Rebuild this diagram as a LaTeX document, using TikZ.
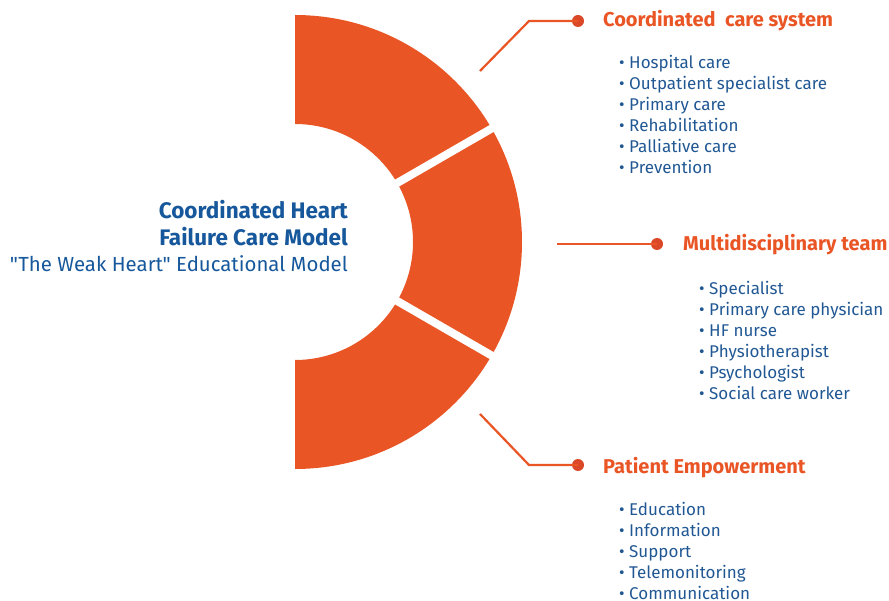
\documentclass[tikz,border=0pt]{standalone}
\usepackage{fontspec}
\setmainfont{Fira Sans}[Ligatures=TeXOff]
\definecolor{ringorange}{RGB}{233,85,37}
\definecolor{dotred}{RGB}{218,72,40}
\definecolor{titleblue}{RGB}{22,88,155}
\definecolor{itemblue}{RGB}{33,88,148}
\tikzset{
  header/.style={anchor=base west, inner sep=0pt, text=ringorange, font=\fontsize{20}{22}\selectfont\bfseries},
  item/.style={anchor=base west, inner sep=0pt, text=itemblue, font=\fontsize{17}{19}\selectfont},
  connector/.style={draw=ringorange, line width=2.2pt},
  enddot/.style={circle, fill=dotred, minimum size=12pt, inner sep=0pt},
  gap/.style={draw=white, line width=8pt},
  titletext/.style={anchor=base east, inner sep=0pt, text=titleblue, font=\fontsize{22.5}{24}\selectfont\bfseries},
  subtext/.style={anchor=base east, inner sep=0pt, text=titleblue, font=\fontsize{20.4}{22}\selectfont}
}
\begin{document}
\begin{tikzpicture}[x=1pt,y=-1pt]
\useasboundingbox (0,0) rectangle (889,601);
\coordinate (C) at (295,242);
% ring
\fill[ringorange] (295,15) arc[start angle=-90, end angle=90, radius=227]
  -- (295,360) arc[start angle=90, end angle=-90, radius=118] -- cycle;
\draw[gap] (C) ++(-30:100) -- ++(-30:150);
\draw[gap] (C) ++(30:100) -- ++(30:150);
% title
\node[titletext] (t1) at (348,219) {Coordinated Heart};
\node[titletext] (t2) at (348,246) {Failure Care Model};
\node[subtext] (t3) at (348,272) {"The Weak Heart" Educational Model};
% connectors
\coordinate (s1) at (480,71);
\coordinate (e1) at (529,21);
\node[enddot] (d1) at (578,21) {};
\draw[connector] (s1) -- (e1) -- (d1.center);
\coordinate (s2) at (557,244);
\node[enddot] (d2) at (657,244) {};
\draw[connector] (s2) -- (d2.center);
\coordinate (s3) at (480,414);
\coordinate (e3) at (529,465);
\node[enddot] (d3) at (578,465) {};
\draw[connector] (s3) -- (e3) -- (d3.center);
% headers
\node[header] (h1) at (603,27) {Coordinated\ \ care system};
\node[header] (h2) at (683,251) {Multidisciplinary team};
\node[header] (h3) at (603,473) {Patient Empowerment};
% items
\foreach \t [count=\i] in {Hospital care,Outpatient specialist care,Primary care,Rehabilitation,Palliative care,Prevention}
  \node[item] (a\i) at (619,{69+21*(\i-1)}) {• \t};
\foreach \t [count=\i] in {Specialist,Primary care physician,HF nurse,Physiotherapist,Psychologist,Social care worker}
  \node[item] (b\i) at (699,{295+21*(\i-1)}) {• \t};
\foreach \t [count=\i] in {Education,Information,Support,Telemonitoring,Communication}
  \node[item] (c\i) at (619,{515+21*(\i-1)}) {• \t};
\end{tikzpicture}
\end{document}
